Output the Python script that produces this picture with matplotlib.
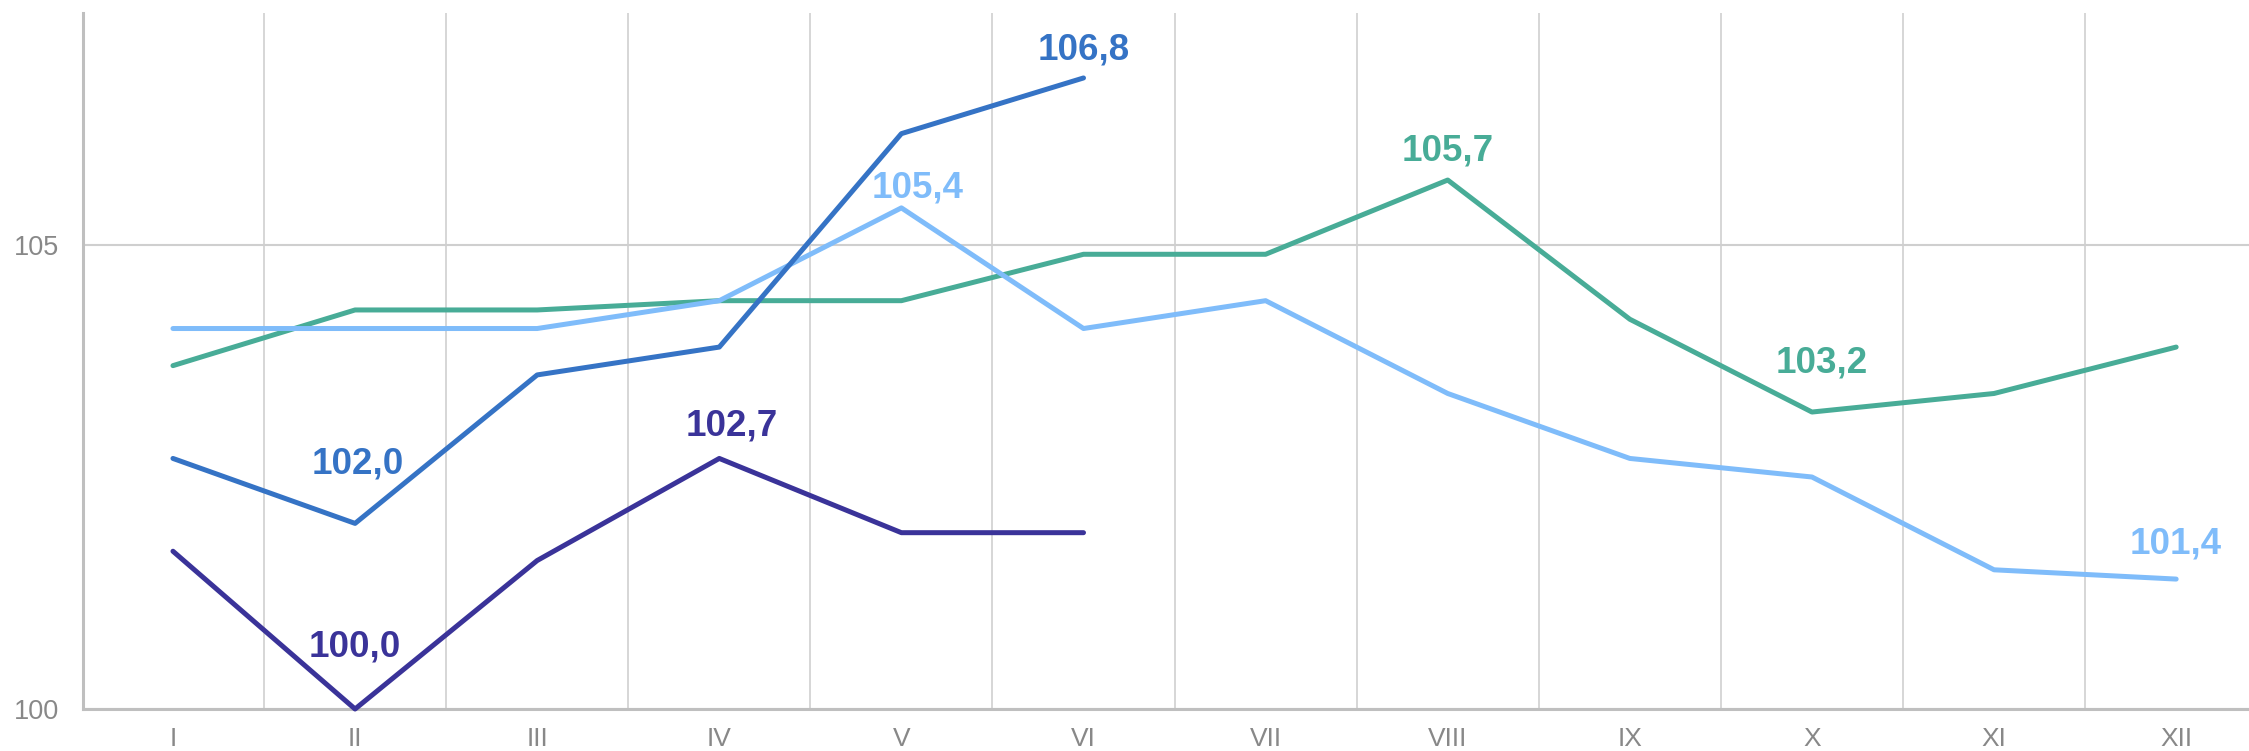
import matplotlib
matplotlib.use("Agg")
import matplotlib.pyplot as plt
from matplotlib.ticker import FixedLocator, NullFormatter

months = ['I', 'II', 'III', 'IV', 'V', 'VI', 'VII', 'VIII', 'IX', 'X', 'XI', 'XII']
navy_vals = [101.7, 100.0, 101.6, 102.7, 101.9, 101.9]
blue_vals = [102.7, 102.0, 103.6, 103.9, 106.2, 106.8]
light_vals = [104.1, 104.1, 104.1, 104.4, 105.4, 104.1, 104.4, 103.4, 102.7, 102.5, 101.5, 101.4]
green_vals = [103.7, 104.3, 104.3, 104.4, 104.4, 104.9, 104.9, 105.7, 104.2, 103.2, 103.4, 103.9]
y_ticks = [100, 105]

C_NAVY = '#3a3399'
C_BLUE = '#3573c5'
C_LIGHT = '#7fbcfa'
C_GREEN = '#48ac97'

plt.rcParams['font.family'] = ['Liberation Sans', 'DejaVu Sans']

fig = plt.figure(figsize=(22.49, 7.51), dpi=100)
ax = fig.add_axes([83 / 2249, 42 / 751, 1 - 83 / 2249, (709 - 13) / 751])

x_all = list(range(len(months)))
lw = 3.6
ax.plot(x_all[:len(green_vals)], green_vals, color=C_GREEN, lw=lw, solid_capstyle='round', zorder=3, clip_on=False)
ax.plot(x_all[:len(light_vals)], light_vals, color=C_LIGHT, lw=lw, solid_capstyle='round', zorder=4, clip_on=False)
ax.plot(x_all[:len(blue_vals)], blue_vals, color=C_BLUE, lw=lw, solid_capstyle='round', zorder=5, clip_on=False)
ax.plot(x_all[:len(navy_vals)], navy_vals, color=C_NAVY, lw=lw, solid_capstyle='round', zorder=6, clip_on=False)

ax.set_xlim(-0.494, 11.40)
ax.set_ylim(100, 107.5)

ax.set_xticks(x_all)
ax.set_xticklabels(months)
ax.xaxis.set_minor_locator(FixedLocator([i + 0.5 for i in range(len(months))]))
ax.xaxis.set_minor_formatter(NullFormatter())
ax.set_yticks(y_ticks)
ax.set_yticklabels([str(v) for v in y_ticks])

ax.tick_params(axis='both', which='both', length=0)
ax.tick_params(axis='x', which='major', labelsize=19, labelcolor='#888888', pad=13)
ax.tick_params(axis='y', which='major', labelsize=19.5, labelcolor='#888888', pad=17)

ax.grid(False)
ax.xaxis.grid(True, which='minor', color='#cfcfcf', lw=1.2)
ax.yaxis.grid(True, which='major', color='#cfcfcf', lw=1.5)
ax.set_axisbelow(True)

for s in ['top', 'right']:
    ax.spines[s].set_visible(False)
for s in ['left', 'bottom']:
    ax.spines[s].set_color('#bfbfbf')
    ax.spines[s].set_linewidth(2.2)
ax.spines['left'].set_zorder(1)
ax.spines['bottom'].set_zorder(1)


def fmt(v):
    return f"{v:.1f}".replace('.', ',')


labels = [
    (navy_vals, 1, C_NAVY, 0, 52),
    (navy_vals, 3, C_NAVY, 12, 23),
    (blue_vals, 1, C_BLUE, 3, 50),
    (blue_vals, 5, C_BLUE, 0, 18),
    (light_vals, 4, C_LIGHT, 16, 10),
    (light_vals, 11, C_LIGHT, 0, 26),
    (green_vals, 7, C_GREEN, 0, 20),
    (green_vals, 9, C_GREEN, 10, 40),
]
for vals, i, col, dx, dy in labels:
    ax.annotate(fmt(vals[i]), xy=(i, vals[i]), xytext=(dx, dy), textcoords='offset pixels',
                ha='center', va='baseline', fontsize=26.5, fontweight='bold', color=col,
                zorder=7, annotation_clip=False)

fig.savefig('out.png', dpi=100)
